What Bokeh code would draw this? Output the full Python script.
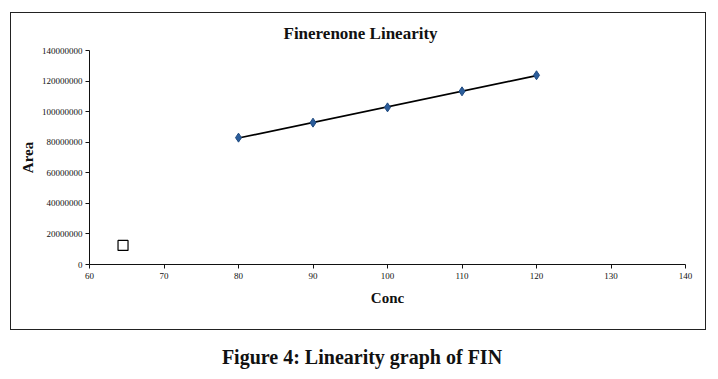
from bokeh.plotting import figure
from bokeh.models import Range1d, FixedTicker, Title, Div, NumeralTickFormatter
from bokeh.layouts import column
from bokeh.embed import file_html
from bokeh.resources import INLINE
import numpy as np

# data
conc = [80, 90, 100, 110, 120]
area = [83000000, 92800000, 102800000, 113300000, 123800000]
marker_x = [64.5]
marker_y = [12500000]
x_ticks = [60, 70, 80, 90, 100, 110, 120, 130, 140]
y_ticks = [0, 20000000, 40000000, 60000000, 80000000, 100000000, 120000000, 140000000]

FONT = "Liberation Serif"

p = figure(width=696, height=318, output_backend="svg", toolbar_location=None,
           x_range=Range1d(60, 140), y_range=Range1d(0, 140000000),
           min_border_left=78, min_border_right=22, min_border_top=37, min_border_bottom=67)
p.styles = {"border": "1.5px solid #222"}
p.margin = (12, 0, 0, 10)
p.outline_line_color = None
p.xgrid.visible = False
p.ygrid.visible = False

t = Title(text="Finerenone Linearity", align="left", offset=194, standoff=16,
          text_font=FONT, text_font_size="17px", text_font_style="bold", text_color="#111")
p.add_layout(t, "above")

for ax in (p.xaxis[0], p.yaxis[0]):
    ax.major_label_text_font = FONT
    ax.major_label_text_font_size = "9px"
    ax.major_label_text_color = "#111"
    ax.axis_label_text_font = FONT
    ax.axis_label_text_font_style = "bold"
    ax.axis_label_text_color = "#111"
    ax.axis_line_color = "#111"
    ax.major_tick_line_color = "#111"
    ax.major_tick_out = 4
    ax.major_tick_in = 0
    ax.minor_tick_line_color = None

p.xaxis.ticker = FixedTicker(ticks=x_ticks)
p.yaxis.ticker = FixedTicker(ticks=y_ticks)
p.yaxis.formatter = NumeralTickFormatter(format="0")
p.xaxis.axis_label = "Conc"
p.xaxis.axis_label_text_font_size = "15px"
p.xaxis.axis_label_standoff = 8
p.yaxis.axis_label = "Area"
p.yaxis.axis_label_text_font_size = "15px"
p.yaxis.axis_label_standoff = 3
p.xaxis.major_label_standoff = 4
p.yaxis.major_label_standoff = 3

# trendline
slope, intercept = np.polyfit(conc, area, 1)
tx = [conc[0], conc[-1]]
ty = [slope * v + intercept for v in tx]
p.line(tx, ty, line_color="black", line_width=1.6)

p.scatter(conc, area, marker="diamond", size=9, fill_color="#2B5D9B", line_color="#1F4A80")
p.scatter(marker_x, marker_y, marker="square", size=10, fill_color="white", line_color="black", line_width=1.2)

cap = Div(text="Figure 4: Linearity graph of FIN", width=702,
          styles={"text-align": "center", "font-family": FONT, "font-weight": "bold",
                  "font-size": "20px", "color": "#111", "width": "702px"})
cap.margin = (13, 0, 0, 11)

layout = column(p, cap)
open("out.html", "w").write(file_html(layout, INLINE))
